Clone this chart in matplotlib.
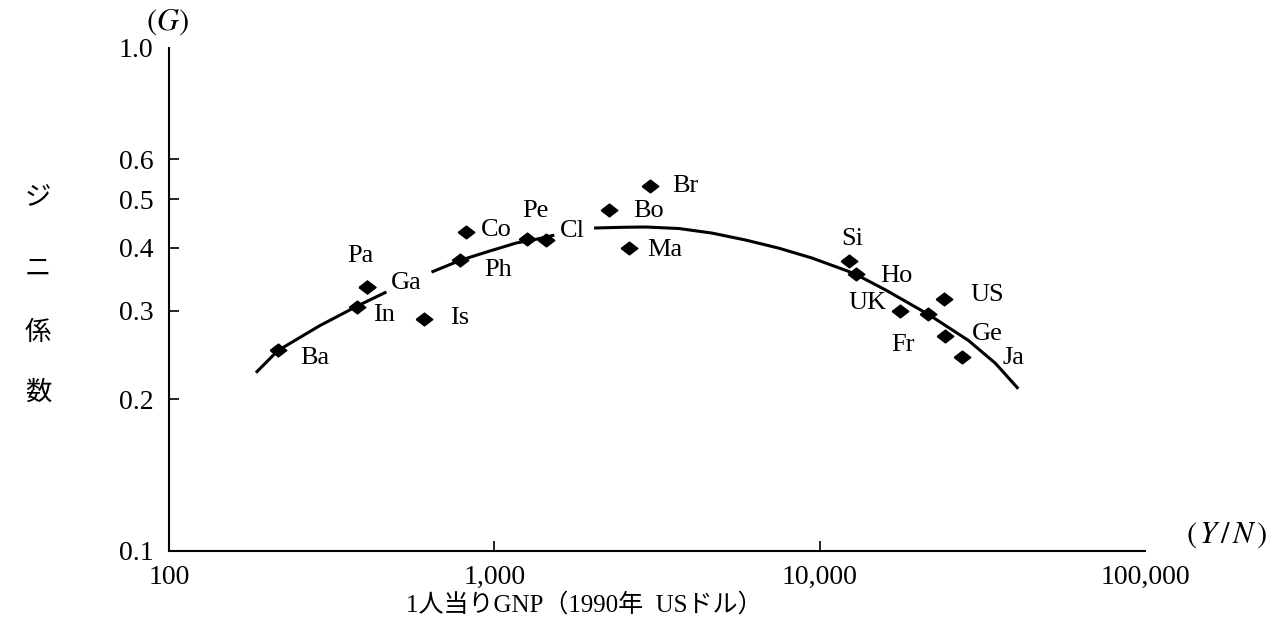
import numpy as np
import matplotlib
matplotlib.use("Agg")
import matplotlib.pyplot as plt

plt.rcParams["font.family"] = ["Liberation Serif", "Noto Sans CJK JP"]
plt.rcParams["mathtext.fontset"] = "stix"

# per-capita GNP (1990 US$) and Gini coefficient
COUNTRIES = ["Ba", "In", "Pa", "Ga", "Is", "Ph", "Co", "Pe", "Cl", "Bo",
             "Br", "Ma", "Si", "Ho", "UK", "Fr", "US", "Ge", "Ja"]
GNP = [216, 377, 405, 405, 610, 787, 821, 1262, 1444, 2253,
       3010, 2595, 12270, 12900, 17600, 21600, 24180, 24350, 27460]
GINI = [0.251, 0.305, 0.334, 0.334, 0.289, 0.378, 0.430, 0.416, 0.414, 0.475,
        0.530, 0.400, 0.376, 0.355, 0.299, 0.295, 0.316, 0.267, 0.2425]

# fitted curve (drawn in three pieces, broken where the labels sit)
CURVE_1_X = [185, 216, 290, 377, 466]
CURVE_1_Y = [0.226, 0.250, 0.280, 0.306, 0.327]
CURVE_2_X = [641, 787, 965, 1168, 1345, 1528]
CURVE_2_Y = [0.358, 0.378, 0.394, 0.409, 0.416, 0.424]
CURVE_3_X = [2026, 2500, 2926, 3694, 4665, 5929, 7485, 9450, 12020, 12900,
             15940, 21600, 28640, 34670, 40790]
CURVE_3_Y = [0.438, 0.4395, 0.440, 0.437, 0.428, 0.4145, 0.3995, 0.382, 0.361, 0.3545,
             0.330, 0.295, 0.262, 0.236, 0.210]

X_TICKS = [100, 1000, 10000, 100000]
X_TICK_LABELS = ["100", "1,000", "10,000", "100,000"]
Y_TICKS = [0.1, 0.2, 0.3, 0.4, 0.5, 0.6, 1.0]
Y_TICK_LABELS = ["0.1", "0.2", "0.3", "0.4", "0.5", "0.6", "1.0"]

# label placement, pixels from the marker (dx right, dy down), alignment
LABEL_POS = {
    "Ba": (22, 8, "left"), "In": (17, 8, "left"), "Pa": (-6, -31, "center"),
    "Ga": (24, -4, "left"), "Is": (26, -1, "left"), "Ph": (24, 10, "left"),
    "Co": (14, -2, "left"), "Pe": (8, -28, "center"), "Cl": (14, -9, "left"),
    "Bo": (24, 1, "left"), "Br": (22, 0, "left"), "Ma": (18, 2, "left"),
    "Si": (4, -22, "center"), "Ho": (25, 2, "left"), "UK": (-13, -8, "right"),
    "Fr": (-26, 31, "center"), "US": (26, -4, "left"), "Ge": (26, -2, "left"),
    "Ja": (40, 1, "left"),
}

fig = plt.figure(figsize=(12.79, 6.2), dpi=100)
ax = fig.add_axes([169 / 1279, 1 - 551 / 620, (1145 - 169) / 1279, (551 - 47.5) / 620])
ax.set_xscale("log")
ax.set_yscale("log")
ax.set_xlim(100, 100000)
ax.set_ylim(0.1, 1.0)

for cx, cy in [(CURVE_1_X, CURVE_1_Y), (CURVE_2_X, CURVE_2_Y), (CURVE_3_X, CURVE_3_Y)]:
    ax.plot(cx, cy, color="black", lw=2.2, solid_capstyle="butt", zorder=2)

diamond = [(-1.3, 0), (0, 1), (1.3, 0), (0, -1), (-1.3, 0)]
ax.plot(GNP, GINI, ls="none", marker=diamond, ms=12, color="black", zorder=3)

for name, x, y in zip(COUNTRIES, GNP, GINI):
    dx, dy, ha = LABEL_POS[name]
    ax.annotate(name, (x, y), xytext=(dx, -dy), textcoords="offset pixels",
                ha=ha, va="center", fontsize=19, color="black")

for side in ("top", "right"):
    ax.spines[side].set_visible(False)
for side in ("left", "bottom"):
    ax.spines[side].set_linewidth(1.5)

ax.set_xticks(X_TICKS, X_TICK_LABELS)
ax.set_yticks(Y_TICKS, Y_TICK_LABELS)
ax.minorticks_off()
ax.tick_params(axis="both", direction="in", length=7, width=1.2, labelsize=20)
ax.tick_params(axis="x", pad=10)
ax.tick_params(axis="y", pad=11)
# no tick marks at the axis ends, only labels
for t in (ax.xaxis.get_major_ticks()[0], ax.xaxis.get_major_ticks()[-1],
          ax.yaxis.get_major_ticks()[0], ax.yaxis.get_major_ticks()[-1]):
    t.tick1line.set_visible(False)

fig.text(167 / 1279, 1 - 22 / 620, r"$(G)$", ha="center", va="center", fontsize=22)
fig.text(1227 / 1279, 1 - 535 / 620, r"$(\,Y\,/\,N\,)$", ha="center", va="center", fontsize=22)
fig.text(584 / 1279, 1 - 605 / 620, "1人当りGNP（1990年  USドル）",
         ha="center", va="center", fontsize=18)
for ch, py in zip("ジニ係数", [198, 268, 333, 392]):
    fig.text(38 / 1279, 1 - py / 620, ch, ha="center", va="center", fontsize=19,
             family=["Noto Sans CJK JP"])

fig.savefig("out.png", dpi=100)
